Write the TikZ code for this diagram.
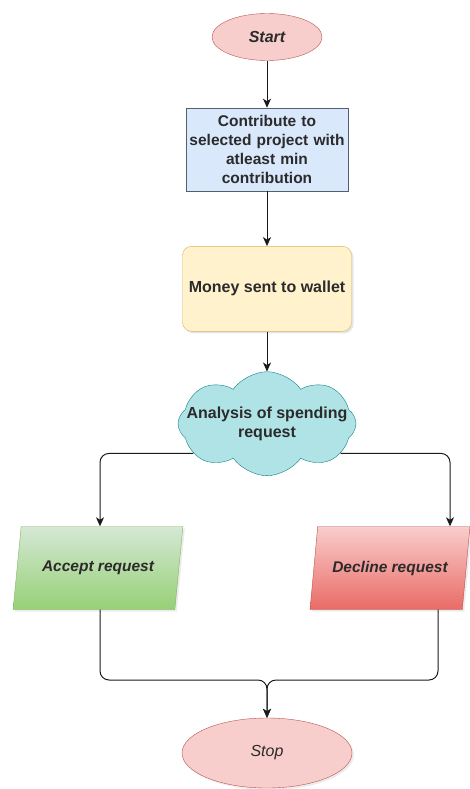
\documentclass[tikz,border=0pt]{standalone}
\usepackage{fontspec}
\setmainfont{Liberation Sans}
\usetikzlibrary{arrows.meta,positioning,shapes.geometric,shapes.symbols,shadows}
\definecolor{ink}{HTML}{1A1A1A}
\definecolor{txt}{HTML}{2B2B2B}
\definecolor{termfill}{HTML}{F8CECC}
\definecolor{termline}{HTML}{B85450}
\definecolor{procfill}{HTML}{DAE8FC}
\definecolor{procline}{HTML}{55606C}
\definecolor{walletfill}{HTML}{FFF2CC}
\definecolor{walletline}{HTML}{D6B656}
\definecolor{cloudfill}{HTML}{B0E3E6}
\definecolor{cloudline}{HTML}{0E8088}
\definecolor{okfill}{HTML}{D5E8D4}
\definecolor{okdark}{HTML}{97D077}
\definecolor{okline}{HTML}{82B366}
\definecolor{nofill}{HTML}{F8CECC}
\definecolor{nodark}{HTML}{EA6B66}
\begin{document}
\begin{tikzpicture}[x=1pt,y=1pt,
 terminal/.style={ellipse,draw=termline,fill=termfill,inner sep=0pt,text=txt,font=\fontsize{16}{19}\selectfont\bfseries\itshape},
 process/.style={draw=procline,fill=procfill,minimum width=162pt,minimum height=83pt,text width=162pt,inner sep=0pt,align=center,text=txt,font=\fontsize{15.5}{19}\selectfont\bfseries},
 wallet/.style={draw=walletline,fill=walletfill,rounded corners=9pt,minimum width=169pt,minimum height=85pt,inner sep=0pt,align=center,text=txt,font=\fontsize{16}{19}\selectfont\bfseries,drop shadow={opacity=0.2,shadow xshift=2pt,shadow yshift=-2pt}},
 analysis/.style={cloud,cloud puffs=8,cloud puff arc=110,aspect=1.8,draw=cloudline,fill=cloudfill,minimum width=178pt,minimum height=104pt,inner xsep=-34pt,inner ysep=-12pt,align=center,text=txt,font=\fontsize{16}{19}\selectfont\bfseries},
 decision/.style={trapezium,trapezium left angle=67,trapezium right angle=113,trapezium stretches=true,minimum height=83pt,inner sep=0pt,text=txt,font=\fontsize{15.5}{19}\selectfont\bfseries\itshape,drop shadow={opacity=0.15,shadow xshift=2pt,shadow yshift=-2pt}},
 arrow/.style={-{Stealth[length=9pt,width=8pt,inset=2.5pt]},draw=ink,line width=1pt,rounded corners=9pt},
 node distance=47pt
]
\useasboundingbox (0,0) rectangle (469,-789);
\node[terminal,minimum width=110pt,minimum height=47pt] (start) at (267,-37) {Start};
\node[process,below=47pt of start] (contrib) {Contribute to\\selected project with\\atleast min\\contribution};
\node[wallet,below=55pt of contrib] (wallet) {Money sent to wallet};
\node[analysis,below=40pt of wallet] (spend) {Analysis of spending\\request};
\node[decision,draw=okline,top color=okfill,bottom color=okdark,minimum width=170pt] (accept) at (98,-568) {Accept request};
\node[decision,draw=termline,top color=nofill,bottom color=nodark,minimum width=160pt] (decline) at (390,-568) {Decline request};
\node[terminal,font=\fontsize{16}{19}\selectfont\itshape,minimum width=170pt,minimum height=70pt,drop shadow={opacity=0.15,shadow xshift=2pt,shadow yshift=-2pt}] (stop) at (267,-753) {Stop};
\coordinate (acceptin) at (accept.north -| 100,0);
\coordinate (declinein) at (decline.north -| 450,0);
\coordinate (acceptout) at (accept.south -| 100,0);
\coordinate (declineout) at (decline.south -| 438,0);
\draw[arrow] (start) -- (contrib);
\draw[arrow] (contrib) -- (wallet);
\draw[arrow] (wallet) -- (spend);
\draw[arrow] (spend.202) -| (acceptin);
\draw[arrow] (spend.338) -| (declinein);
\draw[arrow] (acceptout) |- (267,-680) -- (stop.north);
\draw[arrow] (declineout) |- (267,-680) -- (stop.north);
\end{tikzpicture}
\end{document}
